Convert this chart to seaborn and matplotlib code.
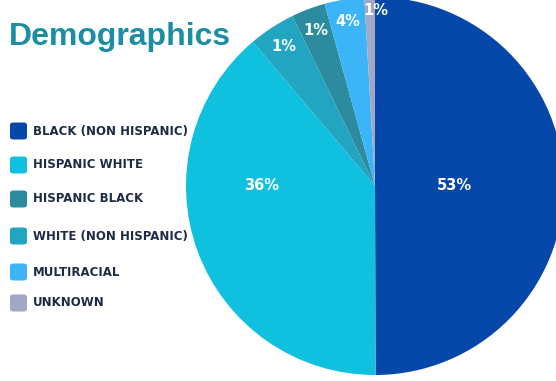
import matplotlib
matplotlib.use("Agg")
import matplotlib.pyplot as plt
import seaborn as sns
import numpy as np
from matplotlib.patches import FancyBboxPatch

sns.set_theme(style="white")
plt.rcParams['font.family'] = ['Liberation Sans', 'DejaVu Sans']

# ---- data (slice order clockwise from top) ----
categories = ["BLACK (NON HISPANIC)", "HISPANIC WHITE", "WHITE (NON HISPANIC)",
              "HISPANIC BLACK", "MULTIRACIAL", "UNKNOWN"]
shares = [50.0, 38.9, 4.0, 2.9, 3.4, 0.9]          # visual wedge sizes
pct_labels = ["53%", "36%", "1%", "1%", "4%", "1%"]  # printed labels
colors = ["#0648aa", "#10c0df", "#22a5c0", "#2c8b9f", "#3cb4f8", "#a3a7c6"]

legend_order = ["BLACK (NON HISPANIC)", "HISPANIC WHITE", "HISPANIC BLACK",
                "WHITE (NON HISPANIC)", "MULTIRACIAL", "UNKNOWN"]
title = "Demographics"

# ---- layout ----
W, H = 556, 381
fig = plt.figure(figsize=(W / 100, H / 100), dpi=100)
fig.patch.set_facecolor("white")

cx, cy, r = 375, 186, 189
ax = fig.add_axes([(cx - r) / W, (H - cy - r) / H, 2 * r / W, 2 * r / H])
wedges, _ = ax.pie(shares, colors=colors, startangle=90, counterclock=False,
                   radius=1.0, wedgeprops=dict(linewidth=0))
ax.set_xlim(-1, 1)
ax.set_ylim(-1, 1)
ax.set_aspect("equal")
ax.axis("off")

# label placement: (radius, angle override or None, dx)
label_layout = [(0.42, 0, 0), (0.60, 180, 0), (0.88, None, 0),
                (0.88, None, 0), (0.88, None, 0), (0.93, None, 0.03)]
for w, lab, (rad, ang, dx) in zip(wedges, pct_labels, label_layout):
    a = np.deg2rad(ang if ang is not None else (w.theta1 + w.theta2) / 2)
    ax.text(rad * np.cos(a) + dx, rad * np.sin(a), lab, ha="center", va="center",
            color="white", fontsize=10.5, fontweight="bold", family="DejaVu Sans")

# title
fig.text(9 / W, 1 - 37 / H, title, ha="left", va="center", color="#1b8ea3",
         fontsize=23, fontweight="bold")

# legend
color_map = dict(zip(categories, colors))
legend_y = [131, 165, 199, 236, 272, 303]
for name, yy in zip(legend_order, legend_y):
    box = FancyBboxPatch((10 / W, 1 - (yy + 8.5) / H), 17 / W, 17 / H,
                         boxstyle="round,pad=0,rounding_size=0.006",
                         transform=fig.transFigure, facecolor=color_map[name],
                         edgecolor="none")
    fig.patches.append(box)
    fig.text(33 / W, 1 - yy / H, name, ha="left", va="center", color="#1e2b45",
             fontsize=8.5, fontweight="bold", family="DejaVu Sans")

fig.savefig("out.png", dpi=100, facecolor="white")
